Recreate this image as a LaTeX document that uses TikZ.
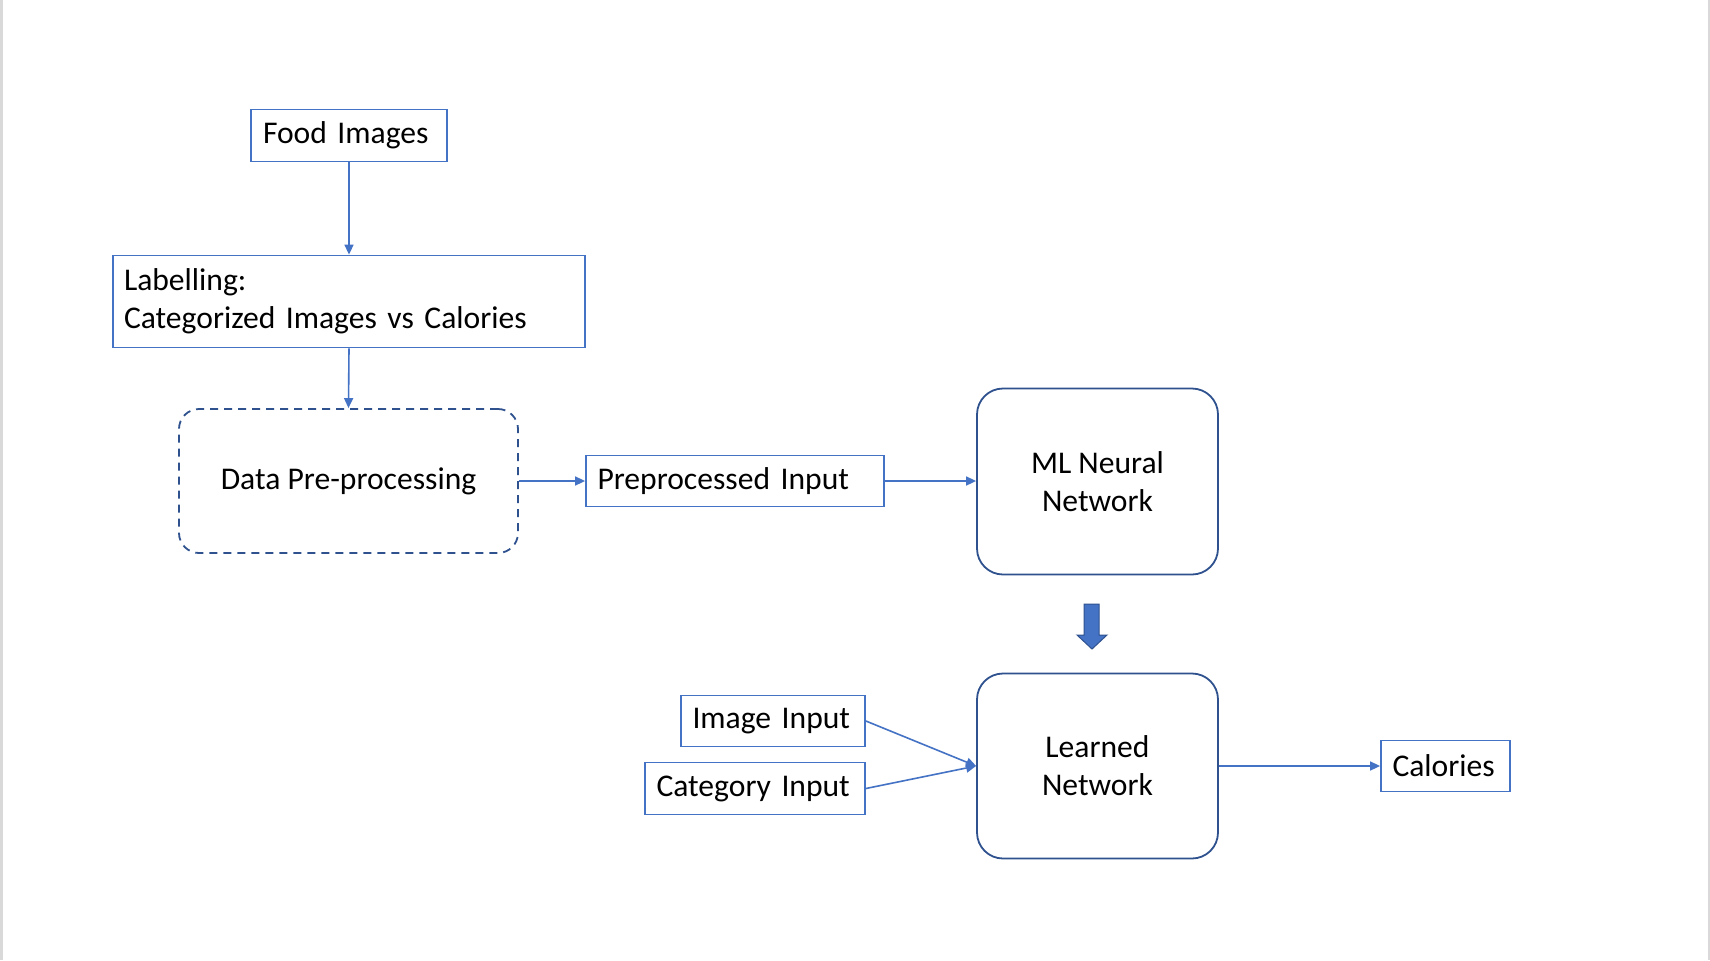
\documentclass[tikz,border=0pt]{standalone}
\usepackage{fontspec}
\setmainfont{Carlito}
\usetikzlibrary{arrows.meta}
\definecolor{oblue}{HTML}{4472C4}
\definecolor{dblue}{HTML}{2F528F}
\definecolor{edgegray}{HTML}{D9D9D9}
\begin{document}
\begin{tikzpicture}[x=0.5pt,y=-0.5pt,
  every node/.style={font=\fontsize{15.8}{19}\selectfont, text=black},
  sqbox/.style={draw=oblue, line width=0.9pt, rectangle, inner sep=0pt, align=left},
  rbox/.style={draw=dblue, line width=0.9pt, rectangle, rounded corners=13pt, inner sep=0pt, align=center},
  conn/.style={draw=oblue, line width=0.8pt, -{Triangle[length=5pt,width=4.5pt]}}]
\useasboundingbox (0,0) rectangle (1710,960);
\fill[white] (0,0) rectangle (1710,960);
\fill[edgegray] (0,0) rectangle (2.5,960);
\fill[edgegray] (1707.5,0) rectangle (1710,960);

\node[sqbox, minimum width=98pt, minimum height=26pt, text width=86pt] (food) at (349,135.5) {Food Images};
\node[sqbox, minimum width=236pt, minimum height=46pt, text width=225pt] (label) at (349,301.5) {Labelling:\\Categorized Images vs Calories};
\node[rbox, dashed, dash pattern=on 4pt off 3pt, rounded corners=10pt, minimum width=169.5pt, minimum height=72pt] (prep) at (348.5,481) {Data Pre-processing};
\node[sqbox, minimum width=149pt, minimum height=25.5pt, text width=137.5pt] (ppin) at (735,481) {Preprocessed Input};
\node[rbox, minimum width=120.5pt, minimum height=93pt] (ml) at (1097.5,481.5) {ML Neural\\Network};
\node[rbox, minimum width=120.5pt, minimum height=92.5pt] (learned) at (1097.5,766) {Learned\\Network};
\node[sqbox, minimum width=92pt, minimum height=25.5pt, text width=80.5pt] (imgin) at (773,721) {Image Input};
\node[sqbox, minimum width=110pt, minimum height=26pt, text width=98.5pt] (catin) at (755,788.5) {Category Input};
\node[sqbox, minimum width=64.5pt, minimum height=25.5pt, text width=53pt] (cal) at (1445.5,766) {Calories};

\draw[conn] (food.south) -- (label.north);
\draw[conn] (label.south) -- (prep.north);
\draw[conn] (prep.east) -- (ppin.west);
\draw[conn] (ppin.east) -- (ppin.east -| ml.west);
\draw[conn] (imgin.east) -- (learned.west);
\draw[conn] (catin.east) -- (learned.west);
\draw[conn] (learned.east) -- (cal.west);

\draw[draw=dblue, fill=oblue, line width=0.5pt]
  (1084,604) -- (1099,604) -- (1099,635) -- (1107,635) -- (1092,649) -- (1077,635) -- (1084,635) -- cycle;
\end{tikzpicture}
\end{document}
